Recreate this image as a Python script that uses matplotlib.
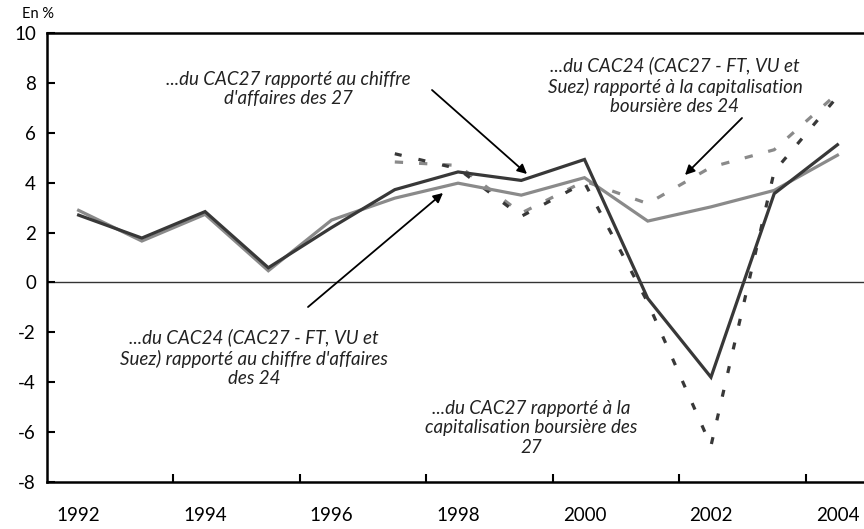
import numpy as np
import matplotlib
matplotlib.use("Agg")
import matplotlib.pyplot as plt

plt.rcParams['font.family'] = ['Lato', 'DejaVu Sans']

years = [1992, 1993, 1994, 1995, 1996, 1997, 1998, 1999, 2000, 2001, 2002, 2003, 2004]
cac27_ca = [2.7, 1.78, 2.84, 0.59, 2.2, 3.72, 4.43, 4.09, 4.93, -0.64, -3.8, 3.56, 5.52]
cac24_ca = [2.89, 1.66, 2.73, 0.47, 2.5, 3.38, 3.98, 3.5, 4.2, 2.46, 3.03, 3.69, 5.1]
cac27_cap = [np.nan, np.nan, np.nan, np.nan, np.nan, 5.16, 4.56, 2.65, 4.0, -0.8, -6.55, 4.45, 7.45]
cac24_cap = [np.nan, np.nan, np.nan, np.nan, np.nan, 4.83, 4.69, 2.78, 4.06, 3.16, 4.62, 5.32, 7.58]

xtick_labels = ['1992', '1994', '1996', '1998', '2000', '2002', '2004']
yticks = [-8, -6, -4, -2, 0, 2, 4, 6, 8, 10]

dark = '#383838'
light = '#8a8a8a'

fig = plt.figure(figsize=(8.64, 5.29), dpi=100)
ax = fig.add_axes([47/864, 1 - 482/529, 1 - 47/864, (482 - 33)/529])

ax.axhline(0, color='#333333', lw=1.0, zorder=1)

lw = 2.3
ax.plot(years, cac24_cap, color=light, lw=lw, dashes=(2.6, 5.0), zorder=2)
ax.plot(years, cac27_cap, color=dark, lw=lw, dashes=(2.2, 5.4), zorder=2)
ax.plot(years, cac24_ca, color=light, lw=lw, zorder=3, solid_joinstyle='miter')
ax.plot(years, cac27_ca, color=dark, lw=lw, zorder=3, solid_joinstyle='miter')

ax.set_xlim(1991.5, 2004.42)
ax.set_ylim(-8, 10)
ax.set_yticks(yticks)
ax.set_yticklabels([str(v) for v in yticks])
ax.set_xticks([int(t) for t in xtick_labels])
ax.set_xticklabels(xtick_labels)
ax.tick_params(axis='x', which='major', length=0, pad=18, labelsize=13.5)
ax.set_xticks([1993.5, 1995.5, 1997.5, 1999.5, 2001.5, 2003.5], minor=True)
ax.tick_params(axis='x', which='minor', direction='in', length=6, width=1.5, color='black')
ax.tick_params(axis='y', direction='in', length=6, width=1.5, labelsize=13.5, pad=8)

for s in ['left', 'bottom', 'top']:
    ax.spines[s].set_linewidth(1.8)
    ax.spines[s].set_color('black')
ax.spines['right'].set_visible(False)

fig.text(38/864, 1 - 14/529, 'En %', fontsize=10.5, ha='center', va='center')

tfs = 13.5
tkw = dict(fontsize=tfs, style='italic', ha='center', va='center', color='#222222',
           linespacing=1.2)

def px(x, y):
    # pixel coords -> axes fraction
    return (x - 47) / (864 - 47), (482 - y) / (482 - 33)

ax.text(*px(288, 89), "...du CAC27 rapporté au chiffre\nd'affaires des 27",
        transform=ax.transAxes, **tkw)
ax.text(*px(675, 86), "...du CAC24 (CAC27 - FT, VU et\nSuez) rapporté à la capitalisation\nboursière des 24",
        transform=ax.transAxes, **tkw)
ax.text(*px(254, 358), "...du CAC24 (CAC27 - FT, VU et\nSuez) rapporté au chiffre d'affaires\ndes 24",
        transform=ax.transAxes, **tkw)
ax.text(*px(531, 428), "...du CAC27 rapporté à la\ncapitalisation boursière des\n27",
        transform=ax.transAxes, **tkw)

akw = dict(arrowstyle='-|>', color='black', lw=1.3, mutation_scale=14, shrinkA=0, shrinkB=0)
for (x0, y0), (x1, y1) in [((432, 90), (527, 174)), ((742, 118), (685, 175)), ((308, 307), (443, 193))]:
    ax.annotate('', xy=px(x1, y1), xytext=px(x0, y0), xycoords='axes fraction',
                textcoords='axes fraction', arrowprops=akw)

fig.savefig('out.png', dpi=100)
